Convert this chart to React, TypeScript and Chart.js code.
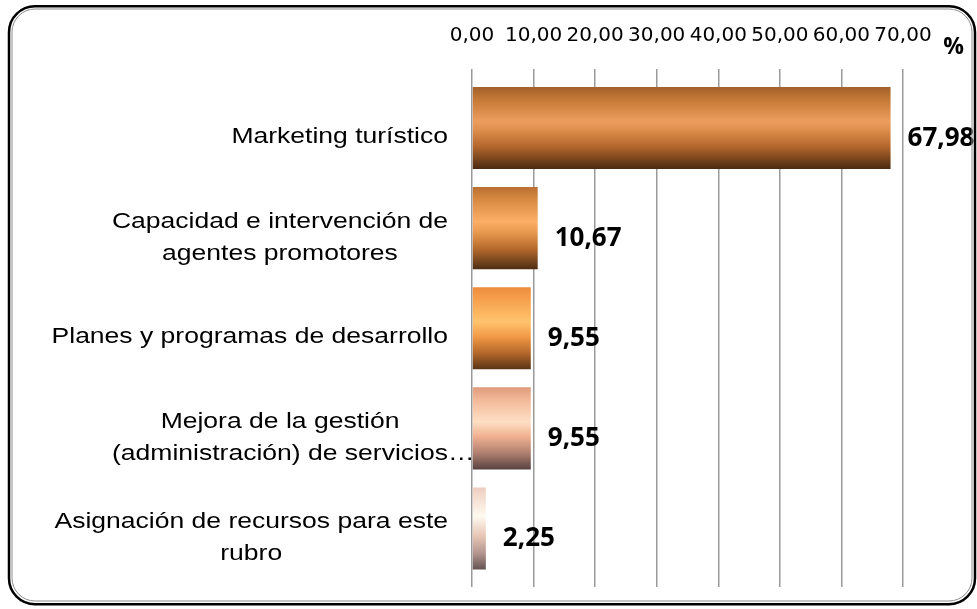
import React, { useEffect, useRef } from 'react';
import { Chart, registerables } from 'chart.js';

Chart.register(...registerables);

// ---- data ----
const categories: string[][] = [
  ['Marketing turístico'],
  ['Capacidad e intervención de', 'agentes promotores'],
  ['Planes y programas de desarrollo'],
  ['Mejora de la gestión', '(administración) de servicios…'],
  ['Asignación de recursos para este', 'rubro'],
];
const values: number[] = [67.98, 10.67, 9.55, 9.55, 2.25];
const xTickLabels: string[] = ['0,00', '10,00', '20,00', '30,00', '40,00', '50,00', '60,00', '70,00'];
const unitLabel = '%';

// ---- styles ----
const barGradients: [number, string][][] = [
  [[0, '#a3602b'], [0.15, '#c47936'], [0.42, '#ec9d5e'], [0.52, '#df8f4e'], [0.72, '#b5682c'], [1, '#4a2911']],
  [[0, '#b96f31'], [0.15, '#d98a42'], [0.42, '#fcae66'], [0.55, '#e99a50'], [0.75, '#b66a2b'], [1, '#4e2e14']],
  [[0, '#ec8c3c'], [0.15, '#f6a04c'], [0.42, '#ffc46e'], [0.6, '#f29a46'], [0.8, '#b4682a'], [1, '#5a3416']],
  [[0, '#e09c7c'], [0.15, '#f2b898'], [0.42, '#ffdfc4'], [0.6, '#f0b090'], [0.8, '#b08070'], [1, '#584240']],
  [[0, '#eecdbf'], [0.35, '#fffaf0'], [0.6, '#e6c4b4'], [0.8, '#b49690'], [1, '#645250']],
];

function roundRectPath(ctx: CanvasRenderingContext2D, x: number, y: number, w: number, h: number, r: number) {
  ctx.beginPath();
  ctx.moveTo(x + r, y);
  ctx.lineTo(x + w - r, y);
  ctx.arcTo(x + w, y, x + w, y + r, r);
  ctx.lineTo(x + w, y + h - r);
  ctx.arcTo(x + w, y + h, x + w - r, y + h, r);
  ctx.lineTo(x + r, y + h);
  ctx.arcTo(x, y + h, x, y + h - r, r);
  ctx.lineTo(x, y + r);
  ctx.arcTo(x, y, x + r, y, r);
  ctx.closePath();
}

const labelPlugin = {
  id: 'customLabels',
  afterDraw(chart: any) {
    const ctx: CanvasRenderingContext2D = chart.ctx;
    const xs = chart.scales.x;
    const ys = chart.scales.y;
    ctx.save();
    ctx.fillStyle = '#000';

    // value labels
    ctx.font = 'bold 26px "Open Sans"';
    ctx.textAlign = 'left';
    ctx.textBaseline = 'alphabetic';
    values.forEach((v, i) => {
      const x = xs.getPixelForValue(v) + 17;
      const y = ys.getPixelForValue(i) + 17.5;
      ctx.fillText(v.toFixed(2).replace('.', ','), x, y);
    });

    // unit label
    ctx.font = 'bold 23px "Open Sans"';
    ctx.textAlign = 'center';
    ctx.fillText(unitLabel, 953.5, 53.5);

    // category labels (stretched horizontally like the original)
    const sx = 1.245;
    ctx.font = '21.3px "Liberation Sans"';
    const right = xs.left - 24;
    const gap = 32;
    categories.forEach((lines, i) => {
      const yc = ys.getPixelForValue(i);
      const core = lines.map((l) => (l.endsWith('…') ? l.slice(0, -1) : l));
      const widths = core.map((l) => ctx.measureText(l).width * sx);
      const bw = Math.max(...widths);
      const cx = right - bw / 2;
      const n = lines.length;
      const y0 = yc + 15 - (n - 1) * 15;
      lines.forEach((line, k) => {
        const by = y0 + k * gap;
        ctx.save();
        if (line.endsWith('…')) {
          ctx.translate(cx - widths[k] / 2, by);
          ctx.scale(sx, 1);
          ctx.textAlign = 'left';
          ctx.fillText(line, 0, 0);
        } else {
          ctx.translate(cx, by);
          ctx.scale(sx, 1);
          ctx.textAlign = 'center';
          ctx.fillText(line, 0, 0);
        }
        ctx.restore();
      });
    });

    // rounded chart border
    ctx.lineWidth = 2.5;
    ctx.strokeStyle = '#000';
    roundRectPath(ctx, 9, 6.2, 966, 598, 26);
    ctx.stroke();
    ctx.lineWidth = 1;
    ctx.strokeStyle = '#8c8c8c';
    roundRectPath(ctx, 12, 9, 960, 592, 23);
    ctx.stroke();
    ctx.restore();
  },
};

export default function App() {
  const ref = useRef<HTMLCanvasElement | null>(null);

  useEffect(() => {
    if (!ref.current) return;
    const chart = new Chart(ref.current, {
      type: 'bar',
      data: {
        datasets: [
          {
            data: values.map((v, i) => ({ x: v, y: i })),
            backgroundColor: (c: any) => {
              const chart = c.chart;
              const i = c.dataIndex;
              const ys = chart.scales && chart.scales.y;
              if (i === undefined || !ys || !chart.chartArea) return '#d08040';
              const yc = ys.getPixelForValue(i);
              const half = Math.abs(ys.getPixelForValue(i + 0.41) - yc);
              const g = chart.ctx.createLinearGradient(0, yc - half, 0, yc + half);
              barGradients[i].forEach(([o, col]) => g.addColorStop(o, col));
              return g;
            },
            borderWidth: 0,
            barPercentage: 0.82,
            categoryPercentage: 1,
          } as any,
        ],
      },
      options: {
        indexAxis: 'y',
        responsive: false,
        animation: false,
        layout: { padding: { left: 472, right: 74, top: 19, bottom: 22 } },
        plugins: { legend: { display: false }, tooltip: { enabled: false } },
        scales: {
          x: {
            type: 'linear',
            position: 'top',
            min: 0,
            max: 70,
            afterFit: (s: any) => {
              s.height = 50;
            },
            ticks: {
              stepSize: 10,
              autoSkip: false,
              maxRotation: 0,
              padding: 21,
              color: '#000',
              font: { family: 'DejaVu Sans', size: 20 },
              callback: (_v: any, i: number) => xTickLabels[i],
            },
            grid: { color: '#9a9a9a', lineWidth: 1.5, drawTicks: false },
            border: { display: false },
          },
          y: {
            type: 'linear',
            reverse: true,
            min: -0.59,
            max: 4.585,
            offset: false,
            grid: { offset: false },
            afterBuildTicks: (s: any) => {
              s.ticks = categories.map((_c, i) => ({ value: i }));
            },
            display: false,
          },
        },
      } as any,
      plugins: [labelPlugin],
    });
    return () => chart.destroy();
  }, []);

  return (
    <div style={{ position: 'absolute', left: 0, top: 0, width: 977, height: 609, background: '#fff' }}>
      <canvas ref={ref} width={977} height={609} style={{ display: 'block' }} />
    </div>
  );
}
